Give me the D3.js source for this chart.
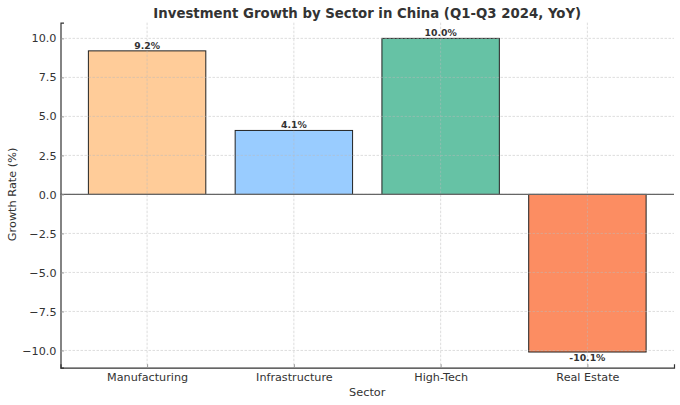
<!DOCTYPE html>
<html>
<head>
<meta charset="utf-8">
<script src="https://cdn.jsdelivr.net/npm/d3@7"></script>
<style>
body { margin: 0; background: #fff; }
svg { font-family: "DejaVu Sans", sans-serif; }
</style>
</head>
<body>
<script>
// chart data
var sectors = ["Manufacturing", "Infrastructure", "High-Tech", "Real Estate"];
var growth = [9.2, 4.1, 10.0, -10.1];
var barColors = ["#ffcc99", "#99ccff", "#66c2a5", "#fc8d62"];
var yTicks = [-10, -7.5, -5, -2.5, 0, 2.5, 5, 7.5, 10];

var width = 680, height = 405;
var margin = {top: 22.7, right: 6, bottom: 37.3, left: 60.5};

var svg = d3.select("body").append("svg")
	.attr("width", width)
	.attr("height", height);

var x = d3.scaleLinear()
	.domain([-0.59, sectors.length - 1 + 0.59])
	.range([margin.left, width - margin.right]);

var y = d3.scaleLinear()
	.domain([-11.105, 11.005])
	.range([height - margin.bottom, margin.top]);

var bw = x(0.8) - x(0);

// bars
svg.append("g").selectAll("rect")
	.data(growth)
	.enter().append("rect")
	.attr("x", function(d, i) { return x(i) - bw / 2; })
	.attr("y", function(d) { return y(Math.max(d, 0)); })
	.attr("width", bw)
	.attr("height", function(d) { return Math.abs(y(d) - y(0)); })
	.attr("fill", function(d, i) { return barColors[i]; })
	.attr("stroke", "#222")
	.attr("stroke-width", 1);

// grid on top of the bars
var grid = svg.append("g")
	.attr("stroke", "#bbb")
	.attr("stroke-width", 0.8)
	.attr("stroke-dasharray", "2.5,1.5")
	.attr("opacity", 0.6);

grid.selectAll("line.h")
	.data(yTicks)
	.enter().append("line")
	.attr("x1", margin.left)
	.attr("x2", width - margin.right)
	.attr("y1", function(d) { return y(d); })
	.attr("y2", function(d) { return y(d); });

grid.selectAll("line.v")
	.data(sectors)
	.enter().append("line")
	.attr("x1", function(d, i) { return x(i); })
	.attr("x2", function(d, i) { return x(i); })
	.attr("y1", margin.top)
	.attr("y2", height - margin.bottom);

// zero line
svg.append("line")
	.attr("x1", margin.left)
	.attr("x2", width - margin.right)
	.attr("y1", y(0))
	.attr("y2", y(0))
	.attr("stroke", "#666")
	.attr("stroke-width", 1.2);

// y axis
var yAxis = svg.append("g")
	.attr("transform", "translate(" + margin.left + ",0)")
	.call(d3.axisLeft(y).tickValues(yTicks).tickSize(-3.5).tickPadding(4)
		.tickFormat(function(d) { return d3.format(".1f")(d).replace("-", "\u2212"); }));
yAxis.select(".domain").attr("stroke", "#333").attr("stroke-width", 1.2);
yAxis.selectAll(".tick line").attr("stroke", "#999");
yAxis.selectAll(".tick text")
	.attr("font-size", 11.2)
	.attr("fill", "#333")
	.attr("font-family", "DejaVu Sans");

// x axis
var xAxis = svg.append("g")
	.attr("transform", "translate(0," + (height - margin.bottom) + ")")
	.call(d3.axisBottom(x).tickValues(d3.range(sectors.length)).tickSize(-3.5).tickPadding(5)
		.tickFormat(function(d) { return sectors[d]; }));
xAxis.select(".domain").attr("stroke", "#333").attr("stroke-width", 1.2);
xAxis.selectAll(".tick line").attr("stroke", "#999");
xAxis.selectAll(".tick text")
	.attr("font-size", 11.2)
	.attr("fill", "#333")
	.attr("font-family", "DejaVu Sans");

// value labels
svg.append("g").selectAll("text")
	.data(growth)
	.enter().append("text")
	.attr("x", function(d, i) { return x(i); })
	.attr("y", function(d) { return d >= 0 ? y(d) - 2 : y(d) + 8.5; })
	.attr("text-anchor", "middle")
	.attr("font-size", 9.3)
	.attr("font-weight", "bold")
	.attr("fill", "#333")
	.text(function(d) { return d.toFixed(1) + "%"; });

// title
svg.append("text")
	.attr("x", (margin.left + width - margin.right) / 2)
	.attr("y", 17.5)
	.attr("text-anchor", "middle")
	.attr("font-size", 13.3)
	.attr("font-weight", "bold")
	.attr("fill", "#333")
	.text("Investment Growth by Sector in China (Q1-Q3 2024, YoY)");

// axis titles
svg.append("text")
	.attr("x", (margin.left + width - margin.right) / 2)
	.attr("y", 395.5)
	.attr("text-anchor", "middle")
	.attr("font-size", 11.3)
	.attr("fill", "#333")
	.text("Sector");

svg.append("text")
	.attr("transform", "translate(16," + y(0) + ") rotate(-90)")
	.attr("text-anchor", "middle")
	.attr("font-size", 11.3)
	.attr("fill", "#333")
	.text("Growth Rate (%)");
</script>
</body>
</html>
